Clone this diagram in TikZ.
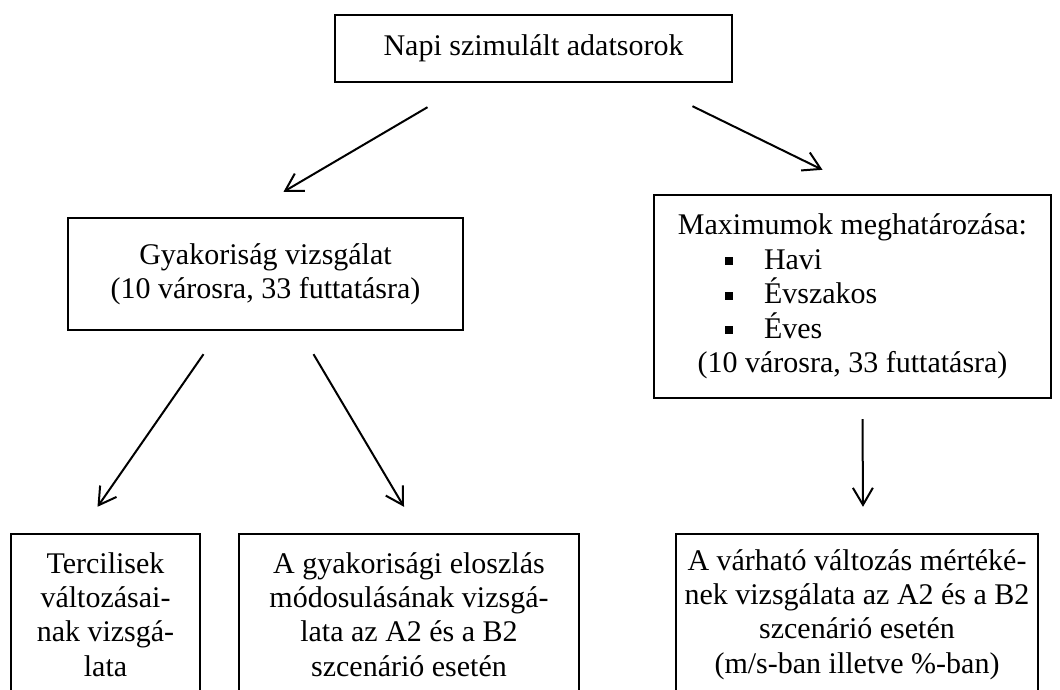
\documentclass[tikz,border=0pt]{standalone}
\usepackage{fontspec}
\setmainfont{Liberation Serif}
\usetikzlibrary{calc}
\usetikzlibrary{arrows.meta}

\tikzset{
 doboz/.style={draw,line width=2.4pt,inner sep=0pt,align=center,font=\fontsize{30}{34.4}\selectfont},
 nyil/.style={line width=2pt,-{Straight Barb[length=17pt,width=20pt]}}
}
\newcommand{\pont}{\rule[4pt]{8pt}{8pt}\hspace{31pt}}

\begin{document}
\begin{tikzpicture}[x=1pt,y=-1pt]
 \useasboundingbox (0,0) rectangle (1060,689);
 \clip (0,0) rectangle (1060,689);
 %doboz fent
 \node[doboz,minimum width=397pt,minimum height=67pt] (napi) at (533.5,48.5) {Napi szimulált adatsorok};
 %doboz bal (kozep)
 \node[doboz,minimum width=395pt,minimum height=112pt] (gyak) at (265.5,274) {Gyakoriság vizsgálat\\(10 városra, 33 futtatásra)};
 %doboz jobb (kozep)
 \node[doboz,minimum width=397pt,minimum height=203pt] (maxi) at (852.5,296.5) {Maximumok meghatározása:\\
  \makebox[255pt][l]{\pont Havi}\\
  \makebox[255pt][l]{\pont Évszakos}\\
  \makebox[255pt][l]{\pont Éves}\\
  (10 városra, 33 futtatásra)};
 %dobozok lent
 \node[doboz,minimum width=189pt,minimum height=161pt] (terc) at (105.5,614.5) {Tercilisek\\változásai-\\nak vizsgá-\\lata};
 \node[doboz,minimum width=340pt,minimum height=161pt] (gyel) at (409,614.5) {A gyakorisági eloszlás\\módosulásának vizsgá-\\lata az A2 és a B2\\szcenárió esetén};
 \node[doboz,minimum width=362pt,minimum height=161pt] (varh) at (857,614.5) {A várható változás mértéké-\\nek vizsgálata az A2 és a B2\\szcenárió esetén\\(m/s-ban illetve \%-ban)};
 %nyilak
 \draw[nyil] ($(napi.south)+(-106,24)$) -- ($(gyak.north)+(18,-25)$);
 \draw[nyil] ($(napi.south)+(159,23)$) -- ($(maxi.north)+(-30,-24)$);
 \draw[nyil] ($(gyak.south)+(-62,23)$) -- ($(terc.north)+(-8,-26)$);
 \draw[nyil] ($(gyak.south)+(48,23)$) -- ($(gyel.north)+(-5,-26)$);
 \draw[nyil] ($(maxi.south)+(10,20)$) -- ($(varh.north)+(6,-26)$);
\end{tikzpicture}
\end{document}
